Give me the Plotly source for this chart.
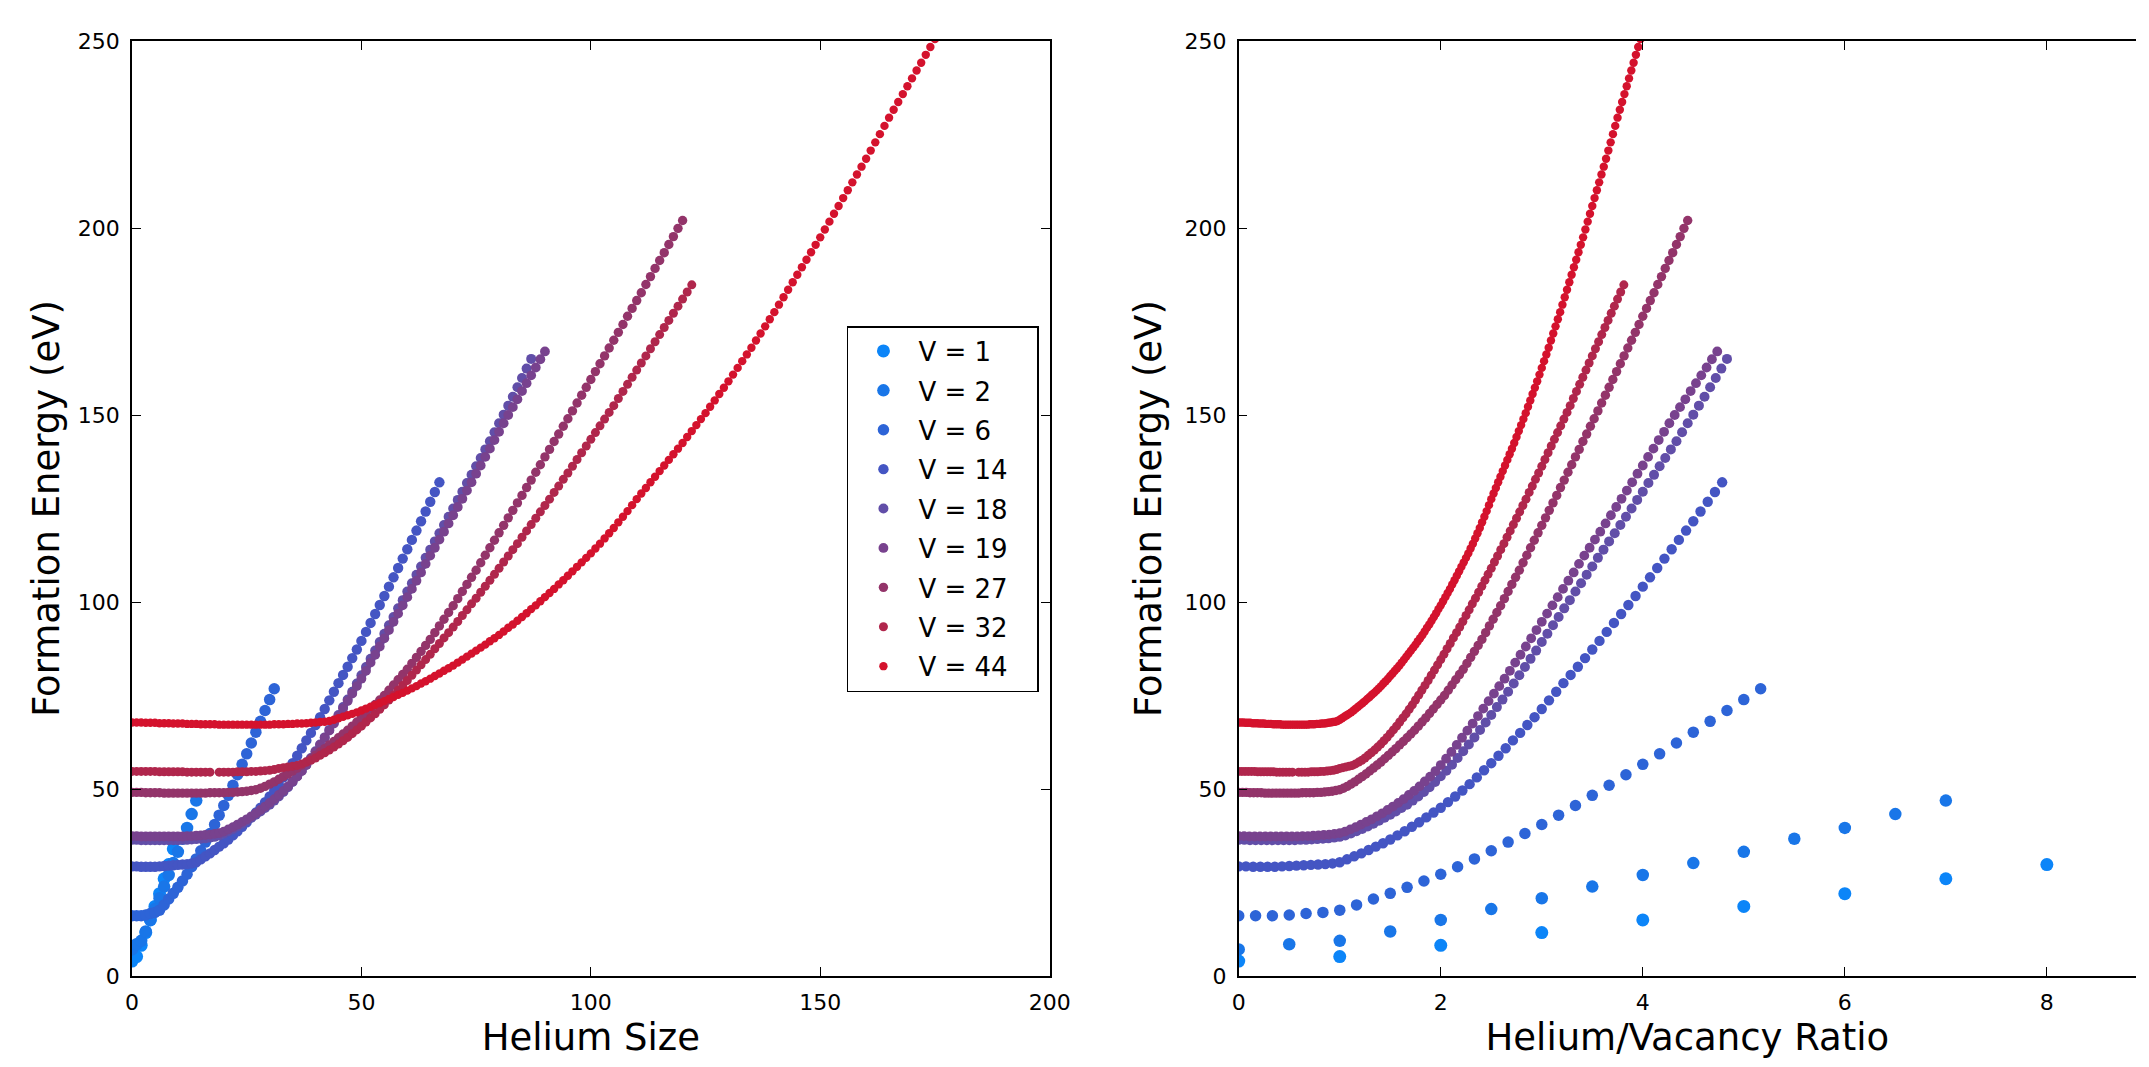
import plotly.graph_objects as go

# ---------------- data ----------------
vacancies = [1, 2, 6, 14, 18, 19, 27, 32, 44]

# formation energy (eV) for helium sizes 0, 1, 2, ... for each vacancy count
e_v1 = [4.0, 5.2, 8.2, 11.6, 15.0, 18.6, 22.0, 26.0, 29.8, 34.0]

e_v2 = [7.1, 8.5, 9.4, 11.9, 15.0, 17.9, 20.8, 23.9, 27.0, 30.2, 33.2, 36.7, 39.6, 43.3, 46.9]

e_v6 = [16.1, 16.1, 16.1, 16.3, 16.7, 17.0, 17.6,
        19.0, 20.6, 22.1, 23.7, 25.4, 27.2, 29.2, 31.3, 33.5, 35.8,
        38.1, 40.5, 43.0, 45.6, 48.3, 51.0, 53.8, 56.6, 59.4, 62.3,
        65.2, 68.1, 71.0, 73.9, 76.8]

e_v14 = [29.3, 29.3, 29.2, 29.2, 29.2, 29.2, 29.3, 29.4, 29.5, 29.6, 29.7, 29.8, 29.9, 30.1,
         30.4, 31.2, 32.0, 32.8, 33.7, 34.6, 35.5, 36.5, 37.6, 38.7,
         39.9, 41.1, 42.4, 43.7, 45.0, 46.5, 48.0, 49.6, 51.3, 53.1,
         55.0, 56.9, 58.9, 60.9, 63.0, 65.0, 67.1, 69.2, 71.4, 73.7,
         76.0, 78.3, 80.5, 82.7, 85.0, 87.3, 89.6, 92.0, 94.4, 96.8,
         99.2, 101.6, 104.1, 106.6, 109.1, 111.6, 114.1, 116.6, 119.1, 121.6,
         124.2, 126.8, 129.4, 132.0]

e_v18 = [36.4, 36.4, 36.3, 36.3, 36.3, 36.3, 36.3, 36.3, 36.3, 36.3,
         36.3, 36.4, 36.4, 36.5, 36.6, 36.7, 36.8, 37.0, 37.2, 37.6,
         38.1, 38.7, 39.3, 40.0, 40.7, 41.5, 42.3, 43.1, 44.0, 44.9,
         45.8, 46.9, 48.0, 49.2, 50.5, 51.9, 53.4, 54.9, 56.5, 58.3,
         60.1, 61.9, 63.8, 65.8, 67.8, 69.8, 71.9, 73.9, 76.0, 78.2,
         80.4, 82.6, 84.8, 87.0, 89.3, 91.5, 93.8, 96.0, 98.3, 100.5,
         102.8, 105.0, 107.3, 109.5, 111.8, 114.0, 116.2, 118.4, 120.6, 122.8,
         125.0, 127.3, 129.5, 131.8, 134.0, 136.3, 138.5, 140.8, 143.0, 145.4,
         147.8, 150.1, 152.5, 154.9, 157.4, 159.9, 162.4, 165.0]

e_v19 = [37.4, 37.4, 37.3, 37.3, 37.3, 37.3, 37.3, 37.3, 37.3, 37.3,
         37.3, 37.3, 37.4, 37.4, 37.5, 37.6, 37.7, 37.8, 38.0, 38.2,
         38.6, 39.2, 39.8, 40.5, 41.2, 41.9, 42.7, 43.5, 44.4, 45.3,
         46.3, 47.3, 48.4, 49.5, 50.7, 52.0, 53.3, 54.8, 56.4, 58.1,
         59.9, 61.8, 63.7, 65.6, 67.5, 69.5, 71.5, 73.5, 75.5, 77.5,
         79.5, 81.6, 83.8, 85.9, 88.1, 90.3, 92.5, 94.7, 96.9, 99.1,
         101.3, 103.5, 105.7, 107.9, 110.2, 112.4, 114.5, 116.7, 118.8, 121.0,
         123.2, 125.4, 127.6, 129.8, 132.0, 134.3, 136.5, 138.8, 141.0, 143.3,
         145.5, 147.8, 150.0, 152.1, 154.2, 156.4, 158.5, 160.6, 162.7, 164.9,
         167.0]

e_v27 = [49.1, 49.1, 49.1, 49.0, 49.0, 49.0, 49.0, 48.9, 48.9, 48.9,
         48.9, 48.9, 48.9, 48.9, 48.9, 48.9, 48.9, 49.0, 49.0, 49.0,
         49.0, 49.1, 49.1, 49.2, 49.3, 49.4, 49.6, 49.8, 50.2, 50.7,
         51.3, 51.9, 52.6, 53.3, 54.0, 54.8, 55.6, 56.4, 57.2, 58.1,
         59.0, 59.9, 60.8, 61.8, 62.7, 63.7, 64.7, 65.7, 66.8, 67.9,
         69.0, 70.2, 71.4, 72.6, 73.8, 75.0, 76.4, 77.8, 79.2, 80.6,
         82.0, 83.6, 85.2, 86.8, 88.4, 90.0, 91.8, 93.6, 95.4, 97.2,
         99.0, 100.9, 102.8, 104.7, 106.6, 108.5, 110.5, 112.5, 114.5, 116.5,
         118.5, 120.5, 122.5, 124.5, 126.5, 128.5, 130.6, 132.6, 134.7, 136.7,
         138.8, 140.8, 142.9, 144.9, 147.0, 149.0, 151.1, 153.2, 155.3, 157.4,
         159.5, 161.6, 163.7, 165.8, 167.9, 170.0, 172.1, 174.2, 176.4, 178.5,
         180.6, 182.7, 184.9, 187.0, 189.2, 191.3, 193.4, 195.6, 197.7, 199.9,
         202.0]

# V = 32: helium size 18 is absent in the reference (visible gap in the band)
e_v32 = [54.7, 54.7, 54.7, 54.7, 54.7, 54.7, 54.6, 54.6, 54.6, 54.6,
         54.6, 54.6, 54.5, 54.5, 54.5, 54.5, 54.5, 54.5, 54.5,
         54.5, 54.5, 54.5, 54.6, 54.6, 54.6, 54.7, 54.7, 54.8, 54.9,
         55.0, 55.2, 55.5, 55.7, 55.9, 56.1, 56.3, 56.7, 57.2, 57.7,
         58.3, 59.0, 59.7, 60.4, 61.2, 62.0, 62.9, 63.8, 64.8, 65.8,
         66.8, 67.9, 69.0, 70.1, 71.3, 72.5, 73.8, 75.1, 76.4, 77.7,
         79.0, 80.4, 81.8, 83.2, 84.6, 86.0, 87.5, 88.9, 90.4, 91.8,
         93.3, 94.8, 96.4, 97.9, 99.5, 101.0, 102.6, 104.2, 105.8, 107.4,
         109.0, 110.7, 112.3, 114.0, 115.6, 117.3, 119.0, 120.7, 122.4, 124.1,
         125.8, 127.5, 129.3, 131.0, 132.8, 134.5, 136.3, 138.1, 139.9, 141.7,
         143.5, 145.3, 147.1, 148.9, 150.7, 152.5, 154.4, 156.3, 158.2, 160.1,
         162.0, 163.9, 165.8, 167.7, 169.6, 171.5, 173.4, 175.3, 177.2, 179.1,
         181.0, 182.9, 184.8]
missing_v32 = [18]

e_v44 = [67.8, 67.8, 67.8, 67.7, 67.7, 67.7, 67.6, 67.6, 67.6, 67.5,
         67.5, 67.5, 67.4, 67.4, 67.4, 67.3, 67.3, 67.3, 67.3, 67.2,
         67.2, 67.2, 67.2, 67.2, 67.2, 67.2, 67.2, 67.2, 67.2, 67.2,
         67.2, 67.3, 67.3, 67.3, 67.4, 67.4, 67.5, 67.5, 67.6, 67.7,
         67.8, 67.9, 68.0, 68.2, 68.5, 68.9, 69.3, 69.7, 70.1, 70.5,
         71.0, 71.5, 72.0, 72.5, 73.0, 73.5, 74.1, 74.6, 75.2, 75.7,
         76.3, 76.9, 77.5, 78.2, 78.8, 79.5, 80.2, 80.9, 81.6, 82.3,
         83.0, 83.8, 84.6, 85.4, 86.2, 87.0, 87.8, 88.6, 89.5, 90.3,
         91.2, 92.1, 93.1, 94.0, 95.0, 96.0, 97.0, 98.1, 99.1, 100.2,
         101.3, 102.4, 103.5, 104.7, 105.8, 107.0, 108.2, 109.4, 110.6, 111.8,
         113.0, 114.3, 115.6, 117.0, 118.4, 119.8, 121.3, 122.8, 124.3, 125.9,
         127.5, 129.0, 130.5, 132.0, 133.5, 135.0, 136.5, 138.0, 139.5, 141.0,
         142.5, 144.1, 145.7, 147.3, 148.9, 150.5, 152.2, 153.9, 155.6, 157.3,
         159.0, 160.8, 162.6, 164.4, 166.2, 168.0, 169.9, 171.8, 173.7, 175.6,
         177.5, 179.5, 181.5, 183.5, 185.5, 187.5, 189.5, 191.5, 193.5, 195.5,
         197.5, 199.6, 201.7, 203.8, 205.9, 208.0, 210.1, 212.2, 214.3, 216.4,
         218.5, 220.7, 222.9, 225.1, 227.3, 229.5, 231.6, 233.7, 235.8, 237.9,
         240.0, 242.1, 244.2, 246.3, 248.4, 250.5]

energies = [e_v1, e_v2, e_v6, e_v14, e_v18, e_v19, e_v27, e_v32, e_v44]
missing = {32: missing_v32}

size_ticks = [0, 50, 100, 150, 200]
ratio_ticks = [0, 2, 4, 6, 8]
energy_ticks = [0, 50, 100, 150, 200, 250]

# ---------------- styling ----------------
colors = ["rgb(12,133,248)", "rgb(25,118,232)", "rgb(45,100,215)", "rgb(68,85,195)",
          "rgb(97,78,168)", "rgb(120,66,142)", "rgb(147,52,106)", "rgb(176,38,76)",
          "rgb(212,18,45)"]
msizes = [13, 12.5, 11.5, 10.4, 10, 9.8, 9.4, 9, 8.4]

FONT = "DejaVu Sans"
PAD = "\u00a0\u00a0\u00a0"

fig = go.Figure()
for V, E, c, s in zip(vacancies, energies, colors, msizes):
    skip = missing.get(V, [])
    he = [n for n in range(len(E) + len(skip)) if n not in skip]
    fig.add_trace(go.Scatter(
        x=he, y=E, mode="markers", name=f"V = {V}" + PAD,
        marker=dict(color=c, size=s, line=dict(width=0)),
        xaxis="x", yaxis="y", legendgroup=str(V), showlegend=True))
    fig.add_trace(go.Scatter(
        x=[n / V for n in he], y=E, mode="markers", name=f"V = {V}",
        marker=dict(color=c, size=s, line=dict(width=0)),
        xaxis="x2", yaxis="y2", legendgroup=str(V), showlegend=False))

# figure-pixel layout (calibrated against the captured page)
W, H = 2149, 1051
ML, MR, MT = 123.5, 0, 33
BOTTOM = 967.8          # y (figure px) of the x axes
LEFT_END = 1051.0       # right spine of the left panel
RIGHT_START = 1242.1    # left spine of the right panel
RATIO_PX = 102.1        # px per unit of the ratio axis
MB = H - BOTTOM
pw = W - ML - MR
ph = BOTTOM - MT

axis_common = dict(
    showline=True, linecolor="black", linewidth=1.5,
    ticks="inside", ticklen=9, tickwidth=1.2, tickcolor="black",
    showgrid=False, zeroline=False,
    tickfont=dict(family=FONT, size=22, color="black"),
)

fig.update_layout(
    width=W, height=H,
    margin=dict(l=ML, r=MR, t=MT, b=MB, pad=0),
    paper_bgcolor="white", plot_bgcolor="white",
    font=dict(family=FONT, color="black"),
    xaxis=dict(domain=[0, (LEFT_END - ML) / pw], range=[0, 200], tickvals=size_ticks,
               mirror="ticks", anchor="y", ticklabelstandoff=6,
               title=dict(text="Helium Size", font=dict(family=FONT, size=37), standoff=15),
               **axis_common),
    yaxis=dict(domain=[0, 1], range=[0, 250], tickvals=energy_ticks,
               mirror="ticks", anchor="x", ticklabelstandoff=6,
               title=dict(text="Formation Energy (eV)", font=dict(family=FONT, size=37), standoff=7),
               **axis_common),
    xaxis2=dict(domain=[(RIGHT_START - ML) / pw, 1], range=[0, (W - RIGHT_START) / RATIO_PX],
                tickvals=ratio_ticks, mirror="ticks", anchor="y2", ticklabelstandoff=6,
                title=dict(text="Helium/Vacancy Ratio", font=dict(family=FONT, size=37), standoff=15),
                **axis_common),
    yaxis2=dict(domain=[0, 1], range=[0, 250], tickvals=energy_ticks,
                anchor="x2", ticklabelstandoff=6,
                title=dict(text="Formation Energy (eV)", font=dict(family=FONT, size=37), standoff=12),
                **axis_common),
    legend=dict(x=(846.1 - ML) / pw, y=(BOTTOM - 318) / ph, xanchor="left", yanchor="top",
                bgcolor="white", bordercolor="black", borderwidth=1.5,
                font=dict(family=FONT, size=26, color="black"),
                itemsizing="trace", itemwidth=60, tracegroupgap=2.6),
    showlegend=True,
)

fig.write_html("out.html")
